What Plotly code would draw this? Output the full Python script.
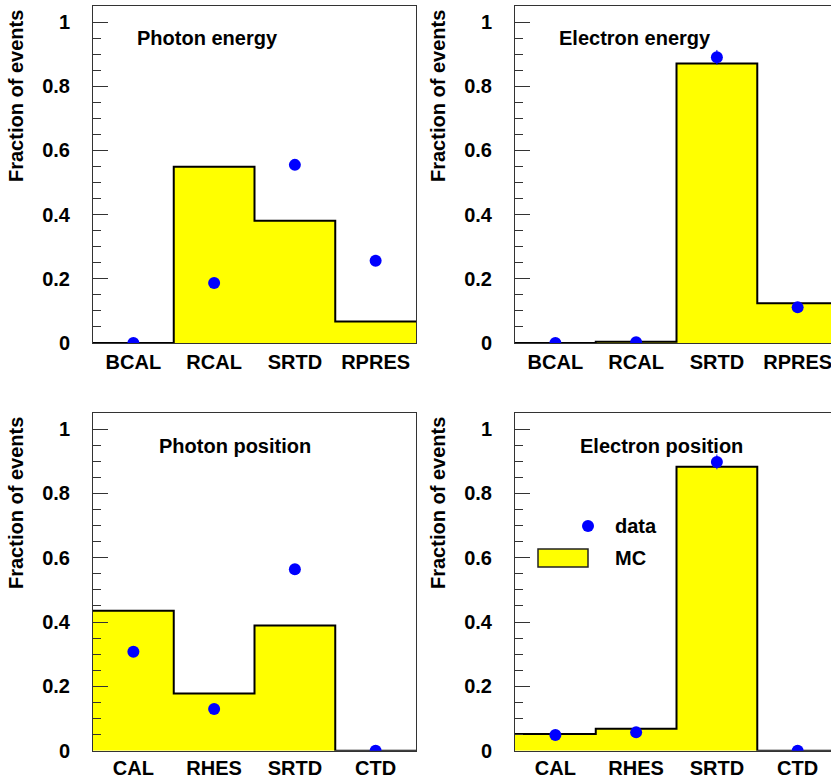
import plotly.graph_objects as go

W, H = 831, 782

# ---------------- data ----------------
cats_energy = ["BCAL", "RCAL", "SRTD", "RPRES"]
cats_position = ["CAL", "RHES", "SRTD", "CTD"]

photon_energy_mc = [0.0, 0.549, 0.381, 0.067]
photon_energy_data = [0.0, 0.187, 0.555, 0.256]
photon_energy_err = [0.005, 0.012, 0.015, 0.013]

electron_energy_mc = [0.0, 0.004, 0.871, 0.124]
electron_energy_data = [0.0, 0.002, 0.890, 0.111]
electron_energy_err = [0.003, 0.003, 0.023, 0.012]

photon_position_mc = [0.435, 0.178, 0.389, 0.0]
photon_position_data = [0.308, 0.130, 0.564, 0.0]
photon_position_err = [0.014, 0.011, 0.016, 0.003]

electron_position_mc = [0.052, 0.068, 0.883, 0.0]
electron_position_data = [0.049, 0.057, 0.898, 0.0]
electron_position_err = [0.008, 0.008, 0.023, 0.003]

titles = ["Photon energy", "Electron energy", "Photon position", "Electron position"]
ytitle = "Fraction of events"

panels = [
    (cats_energy, photon_energy_mc, photon_energy_data, photon_energy_err),
    (cats_energy, electron_energy_mc, electron_energy_data, electron_energy_err),
    (cats_position, photon_position_mc, photon_position_data, photon_position_err),
    (cats_position, electron_position_mc, electron_position_data, electron_position_err),
]

# ---------------- layout geometry (pixels) ----------------
FONT = "Liberation Sans, Arial, Helvetica, sans-serif"
px_x = lambda p: p / W
px_y = lambda p: (H - p) / H

xdom_left = [px_x(93), px_x(416)]
xdom_right = [px_x(515), 1.0]
ydom_top = [px_y(343), px_y(6)]
ydom_bot = [px_y(750.7), px_y(413)]

doms = [(xdom_left, ydom_top), (xdom_right, ydom_top),
        (xdom_left, ydom_bot), (xdom_right, ydom_bot)]
xranges = [[0.5, 4.5], [0.5, 4.413], [0.5, 4.5], [0.5, 4.413]]
xstandoff = [1, 1, -1, -1]

fig = go.Figure()

for i, (cats, mc, dat, err) in enumerate(panels):
    n = i + 1
    xa = "x" if n == 1 else f"x{n}"
    ya = "y" if n == 1 else f"y{n}"
    pos = list(range(1, len(cats) + 1))
    edges = [p - 0.5 for p in pos] + [pos[-1] + 0.5]
    ystep = list(mc) + [mc[-1]]
    # MC histogram (filled step)
    fig.add_trace(go.Scatter(
        x=edges, y=ystep, mode="lines", line_shape="hv",
        line=dict(color="black", width=2), fill="tozeroy",
        fillcolor="#ffff00", xaxis=xa, yaxis=ya, showlegend=False,
        hoverinfo="skip"))
    # data points
    fig.add_trace(go.Scatter(
        x=pos, y=dat, mode="markers",
        marker=dict(color="#0000ff", size=12, line=dict(width=0)),
        error_y=dict(type="data", array=err, color="#0000ff", thickness=1, width=0),
        xaxis=xa, yaxis=ya, showlegend=False))

    xd, yd = doms[i]
    right = (n % 2 == 0)
    fig.layout[f"xaxis{'' if n == 1 else n}"] = dict(
        domain=xd, range=xranges[i], anchor=ya, automargin=False,
        tickmode="array", tickvals=pos, ticktext=cats,
        ticks="", showgrid=False, zeroline=False,
        showline=True, linecolor="#333333", linewidth=1, mirror=True,
        tickfont=dict(family=FONT, size=20, color="black", weight="bold"),
        ticklabelstandoff=xstandoff[i], ticklabeloverflow="allow",
        fixedrange=True)
    fig.layout[f"yaxis{'' if n == 1 else n}"] = dict(
        domain=yd, range=[0, 1.05], anchor=xa, automargin=False,
        tickmode="array", tickvals=[0, 0.2, 0.4, 0.6, 0.8, 1.0],
        ticktext=["0", "0.2", "0.4", "0.6", "0.8", "1"],
        ticks="inside", ticklen=15, tickwidth=1, tickcolor="#333333",
        minor=dict(ticks="inside", ticklen=8, tickwidth=1, tickcolor="#333333",
                   tickmode="linear", tick0=0, dtick=0.05),
        showgrid=False, zeroline=False,
        showline=True, linecolor="#333333", linewidth=1, mirror=not right,
        tickfont=dict(family=FONT, size=20, color="black", weight="bold"),
        ticklabelstandoff=18, fixedrange=True)

annotations = []
# y-axis titles
for (xc, ytop) in [(16, 8), (438, 8), (16, 415), (438, 415)]:
    annotations.append(dict(
        text=ytitle, xref="paper", yref="paper", x=px_x(xc), y=px_y(ytop),
        xanchor="center", yanchor="top", textangle=-90, showarrow=False,
        font=dict(family=FONT, size=20, color="black", weight="bold")))
# panel titles
for t, (xl, yc) in zip(titles, [(135, 38), (557, 38), (157, 446), (578, 446)]):
    annotations.append(dict(
        text=t, xref="paper", yref="paper", x=px_x(xl), y=px_y(yc),
        xanchor="left", yanchor="middle", showarrow=False,
        font=dict(family=FONT, size=20, color="black", weight="bold")))
# legend texts
for t, yc in [("data", 526), ("MC", 558)]:
    annotations.append(dict(
        text=t, xref="paper", yref="paper", x=px_x(613), y=px_y(yc),
        xanchor="left", yanchor="middle", showarrow=False,
        font=dict(family=FONT, size=20, color="black", weight="bold")))

shapes = [
    dict(type="rect", xref="paper", yref="paper",
         x0=px_x(538), x1=px_x(588), y0=px_y(567), y1=px_y(549),
         fillcolor="#ffff00", line=dict(color="#222222", width=1.5)),
    dict(type="circle", xref="paper", yref="paper",
         x0=px_x(582), x1=px_x(594), y0=px_y(532), y1=px_y(520),
         fillcolor="#0000ff", line=dict(width=0)),
]

fig.update_layout(
    width=W, height=H, margin=dict(l=0, r=0, t=0, b=0, autoexpand=False),
    paper_bgcolor="white", plot_bgcolor="white",
    annotations=annotations, shapes=shapes, showlegend=False)

post = (
    "var css='margin:0;padding:0;overflow:hidden;height:782px;width:831px;';"
    "document.documentElement.style.cssText=css;"
    "document.body.style.cssText=css;"
    "var g=document.getElementById('{plot_id}');"
    "if(g&&g.parentElement){g.parentElement.style.cssText=css+'line-height:0;';}"
)

fig.write_html("out.html", config={"displayModeBar": False, "staticPlot": True},
               post_script=post)
